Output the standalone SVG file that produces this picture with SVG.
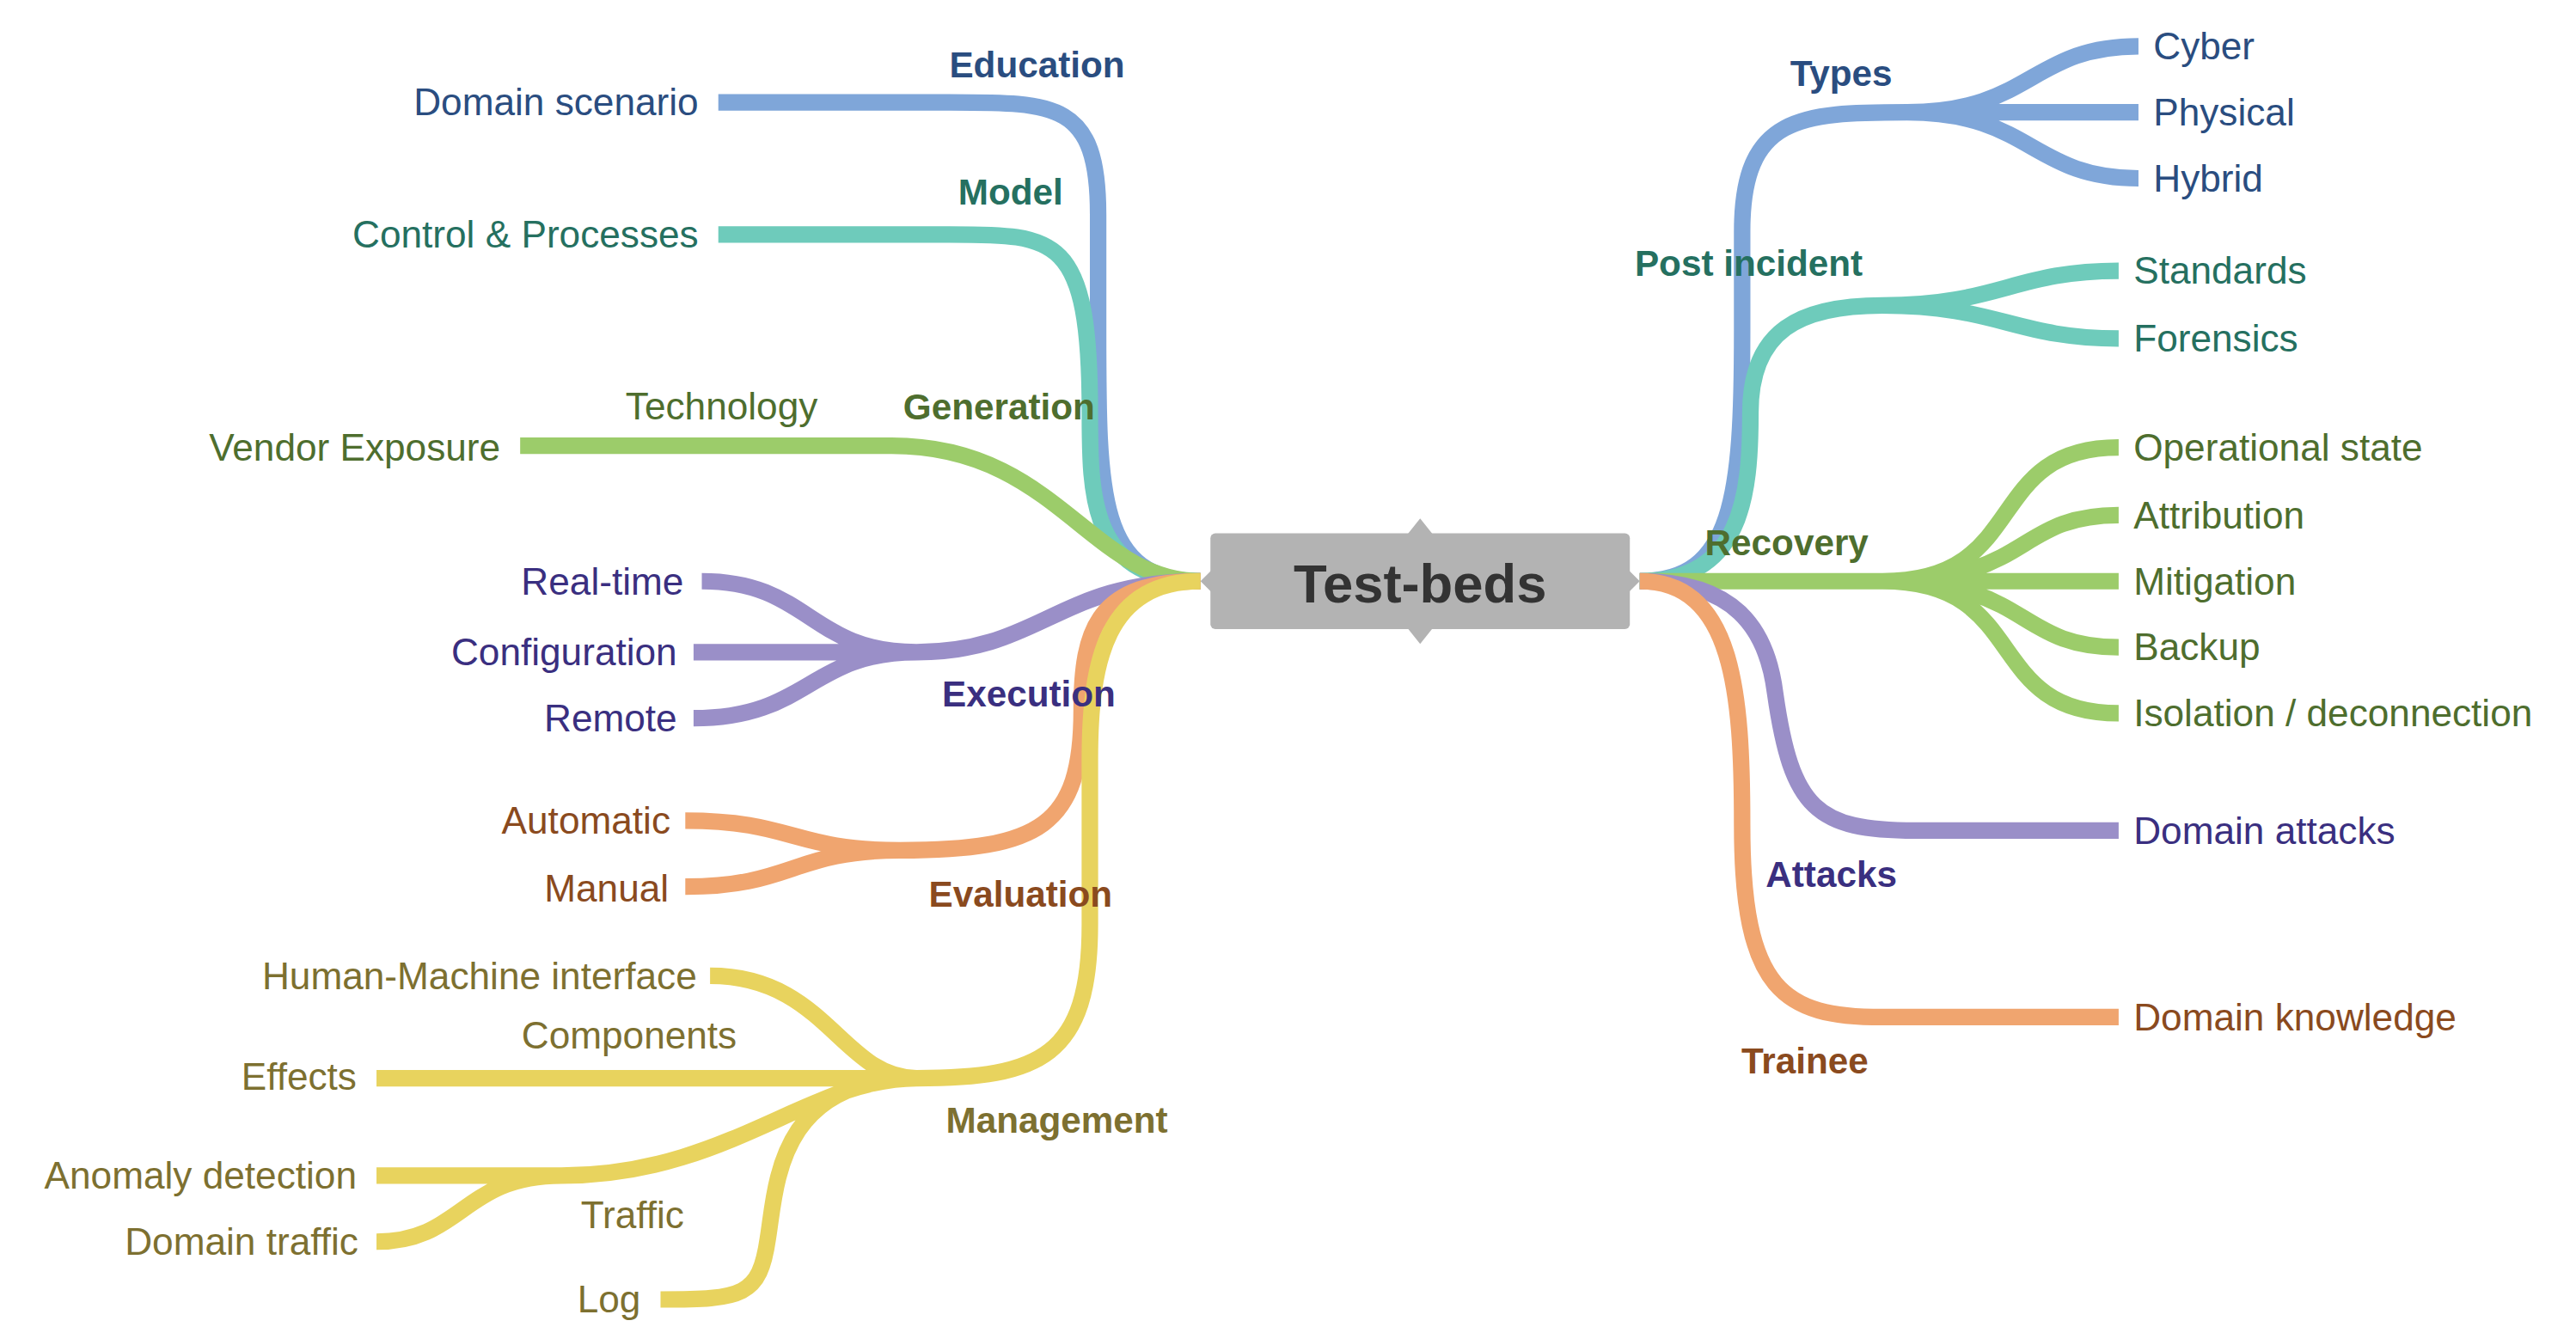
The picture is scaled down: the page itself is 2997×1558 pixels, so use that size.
<svg xmlns="http://www.w3.org/2000/svg" width="2997" height="1558" viewBox="0 0 2997 1558">
<style>
path{fill:none;stroke-width:10;stroke-linecap:butt}
.b{stroke:#7fa6d9}.t{stroke:#6ecbbb}.g{stroke:#9ccc6a}.p{stroke:#9a8fc8}.o{stroke:#f0a56f}.y{stroke:#e8d35e}
text{font-family:"Liberation Sans",Arial,sans-serif;font-size:23px}
.h{font-weight:bold;font-size:22px;text-anchor:middle}
.r{text-anchor:end}
.cb{fill:#2a4d80}.ct{fill:#257060}.cg{fill:#4e6e2e}.cp{fill:#3a2f80}.co{fill:#8a4a1e}.cy{fill:#7d7030}
</style>
<rect width="2997" height="1558" fill="#fff"/>
<g transform="scale(1.9212)">
<g id="connectors">
<path class="b" d="M727,352 C665,352 665,300 665,200 L665,130 C665,62 640,62 575,62 L435,62"/>
<path class="t" d="M727,352 C660,352 660,300 660,250 C660,142 640,142 575,142 L435,142"/>
<path class="g" d="M727,352 C660,352 640,270 540,270 L315,270"/>
<path class="p" d="M727,352 C640,352 630,395 555,395 L420,395 M555,395 C490,395 490,352 425,352 M555,395 C490,395 490,435 420,435"/>
<path class="o" d="M727,352 C665,352 655,380 655,430 C655,500 630,515 545,515 M545,515 C480,515 480,497 415,497 M545,515 C480,515 480,537 415,537"/>
<path class="y" d="M727,352 C670,352 660,400 660,460 L660,560 C660,640 630,653 555,653 L228,653 M555,653 C510,653 500,591 430,591 M555,653 C490,653 440,712 340,712 L228,712 M340,712 C280,712 280,752 228,752 M555,653 C470,653 470,720 465,750 C460,785 450,787 400,787"/>
<path class="b" d="M993,352 C1050,352 1055,300 1055,200 L1055,140 C1055,70 1090,68 1155,68 L1295,68 M1155,68 C1230,68 1230,28 1295,28 M1155,68 C1230,68 1230,108 1295,108"/>
<path class="t" d="M993,352 C1055,352 1060,300 1060,250 C1060,200 1090,185 1140,185 M1140,185 C1210,185 1220,164 1283,164 M1140,185 C1210,185 1220,205 1283,205"/>
<path class="g" d="M993,352 L1283,352 M1140,352 C1230,352 1200,271 1283,271 M1140,352 C1230,352 1220,312 1283,312 M1140,352 C1230,352 1220,392 1283,392 M1140,352 C1230,352 1200,432 1283,432"/>
<path class="p" d="M993,352 C1050,352 1070,380 1075,420 C1085,490 1100,503 1160,503 L1283,503"/>
<path class="o" d="M993,352 C1050,352 1055,420 1055,500 C1055,600 1080,616 1140,616 L1283,616"/>
</g>
<g id="root">
<path d="M860,314 L868,324 L852,324Z M860,390 L868,380 L852,380Z M727,352 L736,343 L736,361Z M993,352 L984,343 L984,361Z" style="fill:#b3b3b3;stroke:none"/>
<rect x="733" y="323" width="254" height="58" rx="3" fill="#b3b3b3"/>
<text x="860" y="365" style="font-size:33px;font-weight:bold;text-anchor:middle;fill:#333">Test-beds</text>
</g>
<g id="n-education"><text class="h cb" x="628" y="47">Education</text><text class="r cb" x="423" y="70">Domain scenario</text></g>
<g id="n-model"><text class="h ct" x="612" y="124">Model</text><text class="r ct" x="423" y="150">Control &amp; Processes</text></g>
<g id="n-generation"><text class="h cg" x="605" y="254">Generation</text><text class="cg" x="437" y="254" text-anchor="middle">Technology</text><text class="r cg" x="303" y="279">Vendor Exposure</text></g>
<g id="n-execution"><text class="h cp" x="623" y="428">Execution</text><text class="r cp" x="414" y="360">Real-time</text><text class="r cp" x="410" y="403">Configuration</text><text class="r cp" x="410" y="443">Remote</text></g>
<g id="n-evaluation"><text class="h co" x="618" y="549">Evaluation</text><text class="r co" x="406" y="505">Automatic</text><text class="r co" x="405" y="546">Manual</text></g>
<g id="n-management"><text class="h cy" x="640" y="686">Management</text><text class="r cy" x="422" y="599">Human-Machine interface</text><text class="cy" x="381" y="635" text-anchor="middle">Components</text><text class="r cy" x="216" y="660">Effects</text><text class="r cy" x="216" y="720">Anomaly detection</text><text class="cy" x="383" y="744" text-anchor="middle">Traffic</text><text class="r cy" x="217" y="760">Domain traffic</text><text class="r cy" x="388" y="795">Log</text></g>
<g id="n-types"><text class="h cb" x="1115" y="52">Types</text><text class="cb" x="1304" y="36">Cyber</text><text class="cb" x="1304" y="76">Physical</text><text class="cb" x="1304" y="116">Hybrid</text></g>
<g id="n-post"><text class="h ct" x="1059" y="167">Post incident</text><text class="ct" x="1292" y="172">Standards</text><text class="ct" x="1292" y="213">Forensics</text></g>
<g id="n-recovery"><text class="h cg" x="1082" y="336">Recovery</text><text class="cg" x="1292" y="279">Operational state</text><text class="cg" x="1292" y="320">Attribution</text><text class="cg" x="1292" y="360">Mitigation</text><text class="cg" x="1292" y="400">Backup</text><text class="cg" x="1292" y="440">Isolation / deconnection</text></g>
<g id="n-attacks"><text class="h cp" x="1109" y="537">Attacks</text><text class="cp" x="1292" y="511">Domain attacks</text></g>
<g id="n-trainee"><text class="h co" x="1093" y="650">Trainee</text><text class="co" x="1292" y="624">Domain knowledge</text></g>
</g>
</svg>
